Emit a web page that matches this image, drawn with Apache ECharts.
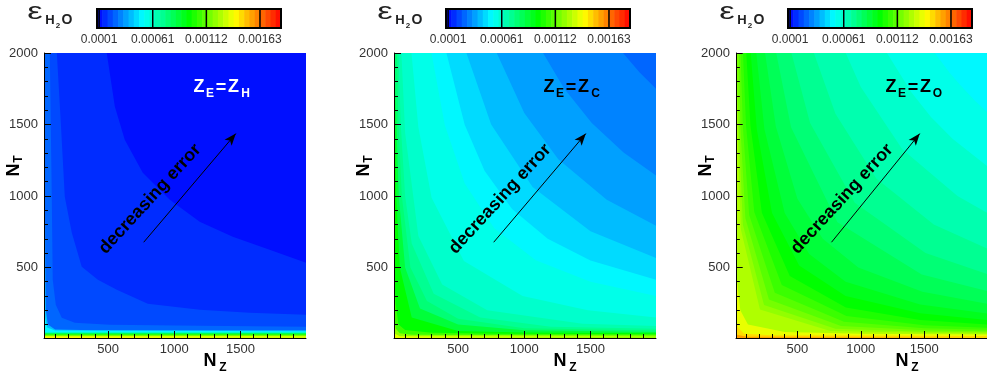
<!DOCTYPE html>
<html>
<head>
<meta charset="utf-8">
<script src="https://cdn.jsdelivr.net/npm/echarts@6/dist/echarts.min.js"></script>
<style>
  html, body { margin: 0; padding: 0; background: #fff; }
  #chart { width: 987px; height: 376px; }
</style>
</head>
<body>
<div id="chart"></div>
<script>
// axes: N_Z (x) and N_T (y)
const nzRange = [16, 1995];
const ntRange = [6, 2000];
const xMajor = [500, 1000, 1500];
const yMajor = [500, 1000, 1500, 2000];
const minorTicks = [100, 200, 300, 400, 600, 700, 800, 900, 1100, 1200, 1300, 1400, 1600, 1700, 1800, 1900];

// colour bar (contour levels of eps_H2O)
const cbLevels = [0.00008, 0.00013, 0.00018, 0.00023, 0.00028, 0.00033, 0.00038, 0.00043, 0.00048,
  0.00053, 0.00058, 0.00063, 0.00068, 0.00073, 0.00078, 0.00083, 0.00088, 0.00093, 0.00098,
  0.00103, 0.00108, 0.00113, 0.00118, 0.00123, 0.00128, 0.00133, 0.00138, 0.00143, 0.00148,
  0.00153, 0.00158, 0.00163, 0.00168, 0.00173, 0.00178, 0.00183];
const cbTicks = [0.0001, 0.00061, 0.00112, 0.00163];
const cbTickLabels = ['0.0001', '0.00061', '0.00112', '0.00163'];

const panelSub = ['H', 'C', 'O'];
// contour band filling the low-error corner of each panel
const baseLevel = [0, 3, 8];

// contour boundaries: [band index below/left of the line, [[N_Z, N_T], ...]]
const contoursZH = [
  [1, [[16, 2000], [490, 2000], [551, 1626], [626, 1393], [762, 1162], [966, 973], [1192, 819], [1442, 714], [1699, 630], [1995, 532]]],
  [2, [[16, 2000], [113, 2000], [143, 1512], [173, 994], [226, 742], [301, 505], [423, 414], [566, 344], [800, 246], [1193, 204], [1570, 183], [1995, 169]]],
  [3, [[16, 2000], [60, 2000], [75, 973], [82, 414], [105, 239], [150, 148], [249, 113], [513, 99], [1193, 92], [1995, 85]]],
  [6, [[16, 2000], [25, 2000], [26, 500], [30, 200], [45, 100], [100, 66], [400, 61], [1995, 60]]],
  [8, [[16, 2000], [20, 2000], [21, 400], [25, 150], [40, 80], [100, 58], [1995, 54]]],
  [12, [[16, 45], [1995, 45]]],
  [16, [[16, 38], [1995, 38]]],
  [20, [[16, 30], [1995, 30]]],
  [24, [[16, 22], [1995, 22]]],
  [26, [[16, 14], [1995, 14]]]
];
const contoursZC = [
  [4, [[16, 2000], [1746, 2000], [1870, 1866], [1995, 1750]]],
  [5, [[16, 2000], [1142, 2000], [1300, 1754], [1510, 1510], [1750, 1303], [1995, 1143]]],
  [6, [[16, 2000], [792, 2000], [1000, 1580], [1257, 1257], [1623, 973], [1995, 792]]],
  [7, [[16, 2000], [563, 2000], [750, 1500], [1063, 1063], [1500, 753], [1995, 566]]],
  [8, [[16, 2000], [412, 2000], [550, 1498], [700, 1177], [908, 908], [1177, 700], [1500, 549], [1995, 413]]],
  [9, [[16, 2000], [299, 2000], [400, 1495], [550, 1087], [773, 773], [1087, 550], [1500, 399], [1995, 300]]],
  [10, [[16, 2000], [148, 2000], [200, 1480], [300, 987], [544, 544], [987, 300], [1480, 200], [1995, 150]]],
  [11, [[16, 2000], [72, 2000], [100, 1440], [200, 720], [380, 380], [720, 200], [1440, 105], [1995, 90]]],
  [12, [[16, 2000], [50, 2000], [67, 1500], [100, 1000], [150, 667], [316, 316], [667, 150], [1200, 85], [1995, 70]]],
  [13, [[16, 2000], [38, 2000], [50, 1500], [75, 1000], [140, 500], [265, 265], [500, 140], [1000, 75], [1995, 58]]],
  [15, [[16, 2000], [27, 2000], [35, 1500], [52, 1000], [100, 500], [212, 212], [500, 100], [1000, 60], [1995, 48]]],
  [17, [[16, 2000], [20, 2000], [24, 1500], [33, 1000], [60, 500], [150, 150], [500, 55], [1000, 44], [1995, 40]]],
  [19, [[16, 500], [28, 250], [50, 100], [100, 62], [300, 42], [800, 35], [1995, 32]]],
  [22, [[16, 150], [30, 70], [60, 40], [150, 28], [1995, 24]]],
  [25, [[16, 40], [60, 18], [1995, 14]]]
];
const contoursZO = [
  [9, [[16, 2000], [1583, 2000], [1700, 1862], [1780, 1779], [1900, 1666], [1995, 1587]]],
  [10, [[16, 2000], [1206, 2000], [1400, 1723], [1553, 1553], [1723, 1400], [1995, 1209]]],
  [11, [[16, 2000], [881, 2000], [1000, 1762], [1327, 1327], [1762, 1000], [1995, 883]]],
  [12, [[16, 2000], [630, 2000], [800, 1575], [1122, 1122], [1575, 800], [1995, 632]]],
  [13, [[16, 2000], [453, 2000], [600, 1510], [952, 952], [1510, 600], [1995, 454]]],
  [14, [[16, 2000], [333, 2000], [450, 1480], [816, 816], [1480, 450], [1995, 334]]],
  [15, [[16, 2000], [245, 2000], [330, 1485], [500, 980], [700, 700], [980, 500], [1485, 330], [1995, 246]]],
  [16, [[16, 2000], [176, 2000], [240, 1467], [400, 880], [593, 593], [880, 400], [1467, 240], [1995, 177]]],
  [17, [[16, 2000], [132, 2000], [180, 1467], [300, 880], [514, 514], [880, 300], [1467, 180], [1995, 132]]],
  [18, [[16, 2000], [97, 2000], [130, 1492], [220, 882], [440, 440], [882, 220], [1467, 132], [1995, 100]]],
  [19, [[16, 2000], [71, 2000], [95, 1495], [160, 887], [377, 377], [887, 160], [1500, 95], [1995, 78]]],
  [20, [[16, 2000], [52, 2000], [70, 1486], [120, 867], [322, 322], [867, 120], [1500, 75], [1995, 64]]],
  [21, [[16, 2000], [38, 2000], [52, 1462], [90, 844], [276, 276], [844, 90], [1500, 60], [1995, 54]]],
  [22, [[16, 2000], [28, 2000], [38, 1474], [70, 800], [237, 237], [800, 70], [1500, 50], [1995, 46]]],
  [23, [[16, 2000], [21, 2000], [30, 1400], [55, 764], [205, 205], [760, 55], [1500, 42], [1995, 38]]],
  [25, [[16, 600], [25, 400], [50, 200], [110, 100], [400, 48], [1000, 36], [1995, 30]]],
  [27, [[16, 150], [30, 80], [80, 36], [300, 26], [1995, 20]]],
  [29, [[16, 30], [100, 15], [1995, 12]]]
];
const contours = [contoursZH, contoursZC, contoursZO];

// "decreasing error" arrow, in (N_Z, N_T)
const arrowFrom = [769, 676];
const arrowTo = [1465, 1436];

// layout
const plotLeft = [44, 394, 736];
const plotTop = 53, plotW = 262, plotH = 285;
const cbLeft = [97, 446, 788];
const cbTop = 9, cbW = 184, cbH = 19;
const dx = [0, 350, 692];
const FONT = '"Liberation Sans", Arial, sans-serif';

const rainbow = [[0, 0, 255], [0, 255, 255], [0, 255, 0], [255, 255, 0], [255, 0, 0]];
const nBands = cbLevels.length - 1;
function bandColor(k) {
  const t = (k + 0.5) / nBands * 4;
  const i = Math.min(3, Math.floor(t));
  const f = t - i;
  const a = rainbow[i], b = rainbow[i + 1];
  return 'rgb(' + a.map((c, j) => Math.round(c + (b[j] - c) * f)).join(',') + ')';
}

function txt(x, y, text, size, bold, color, rot, sx) {
  return {
    type: 'text', x: x, y: y, rotation: rot || 0, scaleX: sx || 1, z: 100, silent: true,
    style: {
      text: text, fill: color,
      font: (bold ? 'bold ' : '') + size + 'px ' + FONT,
      align: 'center', verticalAlign: 'middle'
    }
  };
}

const plainNum = v => String(v);

// inward tick marks as short mark lines; tick length given in px, turned into axis units
const unitX = (nzRange[1] - nzRange[0]) / plotW;
const unitY = (ntRange[1] - ntRange[0]) / plotH;
function xTick(v, len) { return [{ coord: [v, ntRange[0]] }, { coord: [v, ntRange[0] + len * unitY] }]; }
function yTick(v, len) { return [{ coord: [nzRange[0], v] }, { coord: [nzRange[0] + len * unitX, v] }]; }
function tickPairs() {
  return [].concat(
    xMajor.map(v => xTick(v, 7)), minorTicks.map(v => xTick(v, 4)),
    yMajor.map(v => yTick(v, 7)), minorTicks.map(v => yTick(v, 4))
  );
}

const grids = [], xAxes = [], yAxes = [], series = [], graphics = [];

panelSub.forEach((sub, p) => {
  const gPlot = grids.length;
  grids.push({
    left: plotLeft[p], top: plotTop, width: plotW, height: plotH,
    show: true, backgroundColor: bandColor(baseLevel[p]), borderWidth: 0
  });
  const gCb = grids.length;
  grids.push({ left: cbLeft[p], top: cbTop, width: cbW, height: cbH });

  const xi = xAxes.length, yi = yAxes.length;
  xAxes.push(
    {
      gridIndex: gPlot, type: 'value', min: nzRange[0], max: nzRange[1], position: 'bottom', z: 10,
      axisLine: { show: true, onZero: false, lineStyle: { color: '#000', width: 1 } },
      axisTick: { show: false },
      axisLabel: { show: true, customValues: xMajor, color: '#333', fontSize: 13, fontFamily: FONT, margin: 5, formatter: plainNum },
      splitLine: { show: false }
    },
    {
      gridIndex: gCb, type: 'value', min: cbLevels[0], max: cbLevels[nBands], position: 'bottom',
      axisLine: { show: false }, axisTick: { show: false }, splitLine: { show: false },
      axisLabel: {
        customValues: cbTicks, color: '#333', fontSize: 12, fontFamily: FONT, margin: 6,
        formatter: v => {
          let best = 0;
          cbTicks.forEach((t, i) => { if (Math.abs(t - v) < Math.abs(cbTicks[best] - v)) best = i; });
          return cbTickLabels[best];
        }
      }
    }
  );
  yAxes.push(
    {
      gridIndex: gPlot, type: 'value', min: ntRange[0], max: ntRange[1], position: 'left', z: 10,
      axisLine: { show: true, onZero: false, lineStyle: { color: '#000', width: 1 } },
      axisTick: { show: false },
      axisLabel: { show: true, customValues: yMajor, color: '#333', fontSize: 13, fontFamily: FONT, margin: 6, formatter: plainNum },
      splitLine: { show: false }
    },
    { gridIndex: gCb, type: 'value', min: 0, max: 1, show: false }
  );

  // filled contour bands
  contours[p].forEach(([lv, pts], i) => {
    const s = {
      type: 'line', xAxisIndex: xi, yAxisIndex: yi, data: pts,
      symbol: 'none', silent: true, animation: false, clip: true,
      lineStyle: { width: 0 },
      areaStyle: { color: bandColor(lv), opacity: 1, origin: 'start' }
    };
    if (i === contours[p].length - 1) {
      s.markLine = {
        silent: true, animation: false, symbol: ['none', 'arrow'], symbolSize: [7, 12],
        label: { show: false }, lineStyle: { color: '#000', width: 1, type: 'solid' },
        emphasis: { disabled: true },
        data: [[{ coord: arrowFrom }, { coord: arrowTo }]]
      };
    }
    series.push(s);
  });

  // tick marks on the two plot axes
  series.push({
    type: 'line', xAxisIndex: xi, yAxisIndex: yi, silent: true, animation: false,
    data: [[nzRange[0], ntRange[0]]], symbol: 'none', lineStyle: { width: 0 }, z: 20,
    markLine: {
      silent: true, animation: false, symbol: 'none',
      label: { show: false }, lineStyle: { color: '#000', width: 1, type: 'solid', opacity: 1 },
      emphasis: { disabled: true },
      data: tickPairs()
    }
  });

  // colour bar
  series.push({
    type: 'custom', xAxisIndex: xi + 1, yAxisIndex: yi + 1, silent: true, animation: false,
    data: cbLevels.slice(0, -1).map((v, k) => [v, cbLevels[k + 1], k]),
    encode: { x: [0, 1] },
    renderItem: (params, api) => {
      const a = api.coord([api.value(0), 1]), b = api.coord([api.value(1), 0]);
      return {
        type: 'rect',
        shape: { x: a[0], y: a[1], width: b[0] - a[0] + 0.6, height: b[1] - a[1] },
        style: { fill: bandColor(api.value(2)) }
      };
    }
  });
  series.push({
    type: 'custom', xAxisIndex: xi + 1, yAxisIndex: yi + 1, silent: true, animation: false,
    clip: false, z: 5,
    data: cbTicks.map(v => [v]),
    renderItem: (params, api) => {
      const a = api.coord([api.value(0), 1]), b = api.coord([api.value(0), 0]);
      return {
        type: 'line', shape: { x1: a[0], y1: a[1], x2: b[0], y2: b[1] },
        style: { stroke: '#000', lineWidth: 1.5 }
      };
    }
  });
  series.push({
    type: 'custom', xAxisIndex: xi + 1, yAxisIndex: yi + 1, silent: true, animation: false,
    clip: false, z: 6,
    data: [[cbLevels[0], cbLevels[nBands]]],
    renderItem: (params, api) => {
      const a = api.coord([api.value(0), 1]), b = api.coord([api.value(1), 0]);
      return {
        type: 'rect', shape: { x: a[0], y: a[1], width: b[0] - a[0], height: b[1] - a[1] },
        style: { fill: 'none', stroke: '#000', lineWidth: 2 }
      };
    }
  });

  // texts
  const d = dx[p];
  graphics.push(
    txt(35 + d, 12.5, 'ε', 23, false, '#222', 0, 1.5),
    txt(50 + d, 20.5, 'H', 13, true, '#222'),
    txt(58 + d, 25.5, '2', 8, true, '#222'),
    txt(67 + d, 20.5, 'O', 14, true, '#222')
  );
  const zc = p === 0 ? '#fff' : '#000';
  graphics.push(
    txt(199 + d, 87.5, 'Z', 18, true, zc),
    txt(210 + d, 93.5, 'E', 12, true, zc),
    txt(221 + d, 88, '=', 18, true, zc),
    txt(233.5 + d, 87.5, 'Z', 18, true, zc),
    txt(245.5 + d, 93.5, sub, 12, true, zc)
  );
  graphics.push(
    txt(14 + d, 170, 'N', 18, true, '#000', Math.PI / 2),
    txt(19 + d, 159, 'T', 12, true, '#000', Math.PI / 2),
    txt(210 + d, 361.5, 'N', 18, true, '#000'),
    txt(223 + d, 367.5, 'Z', 12, true, '#000'),
    txt(150 + d, 199, 'decreasing error', 18, true, '#000', 47.5 * Math.PI / 180)
  );
});

const chart = echarts.init(document.getElementById('chart'), null, { renderer: 'canvas' });
chart.setOption({
  animation: false,
  backgroundColor: '#fff',
  grid: grids,
  xAxis: xAxes,
  yAxis: yAxes,
  series: series,
  graphic: { elements: graphics }
});
</script>
</body>
</html>
